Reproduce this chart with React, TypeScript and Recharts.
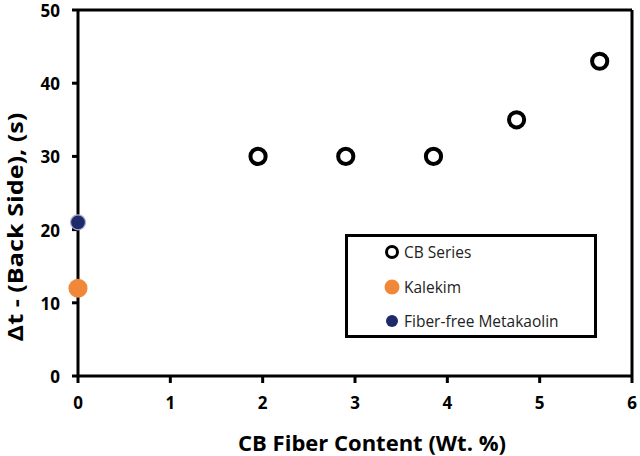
import React from "react";
import { ScatterChart, Scatter, XAxis, YAxis, ReferenceLine } from "recharts";

const cbSeries = [
  { x: 1.95, y: 30 },
  { x: 2.9, y: 30 },
  { x: 3.85, y: 30 },
  { x: 4.75, y: 35 },
  { x: 5.65, y: 43 },
];
const kalekim = [{ x: 0, y: 12 }];
const fiberFree = [{ x: 0, y: 21 }];

const xTicks = [0, 1, 2, 3, 4, 5, 6];
const yTicks = [0, 10, 20, 30, 40, 50];

const xTitle = "CB Fiber Content (Wt. %)";
const yTitle = "\u0394t - (Back Side), (s)";

const FONT = "'Open Sans', 'Noto Sans', sans-serif";

const OpenCircle = (p: any) => (
  <circle cx={p.cx} cy={p.cy} r={7.6} fill="#fff" stroke="#000" strokeWidth={4} />
);
const OrangeDot = (p: any) => <circle cx={p.cx} cy={p.cy} r={9.5} fill="#F0883A" />;
const NavyDot = (p: any) => (
  <circle cx={p.cx} cy={p.cy} r={7.5} fill="#1F2A6B" stroke="#A9B0D0" strokeWidth={1.2} />
);

const legendItems = [
  { name: "CB Series", kind: "open" },
  { name: "Kalekim", kind: "orange" },
  { name: "Fiber-free Metakaolin", kind: "navy" },
];

function LegendBox() {
  return (
    <div
      style={{
        position: "absolute",
        left: 345,
        top: 234,
        width: 252,
        height: 104,
        border: "3px solid #000",
        background: "#fff",
        fontFamily: FONT,
        fontSize: 15.5,
        color: "#222",
        boxSizing: "border-box",
        paddingLeft: 35,
      }}
    >
      <div style={{ position: "relative", top: -2 }}>
        {legendItems.map((it) => (
          <div key={it.name} style={{ display: "flex", alignItems: "center", height: 34.5 }}>
            <svg width={18} height={18} style={{ marginRight: 3 }}>
              {it.kind === "open" && <circle cx={9} cy={9} r={5.5} fill="#fff" stroke="#000" strokeWidth={3} />}
              {it.kind === "orange" && <circle cx={9} cy={9} r={7.5} fill="#F0883A" />}
              {it.kind === "navy" && <circle cx={9} cy={9} r={6} fill="#1F2A6B" />}
            </svg>
            <span>{it.name}</span>
          </div>
        ))}
      </div>
    </div>
  );
}

const XTitle = () => (
  <text x={372} y={442} textAnchor="middle" dominantBaseline="central" fill="#000"
    fontSize={22} fontWeight={700} fontFamily={FONT}>
    {xTitle}
  </text>
);

const YTitle = () => (
  <text transform="translate(15,227) rotate(-90) scale(1.2,1)" x={0} y={0} textAnchor="middle"
    dominantBaseline="central" fill="#000" fontSize={21} fontWeight={700} fontFamily={FONT}>
    {yTitle}
  </text>
);

export default function App() {
  return (
    <div style={{ position: "absolute", left: 0, top: 0, width: 640, height: 456, background: "#fff" }}>
      <ScatterChart width={640} height={456} margin={{ top: 10, right: 8, bottom: 0, left: 0 }}>
        <XAxis
          type="number"
          dataKey="x"
          domain={[0, 6]}
          ticks={xTicks}
          interval={0}
          height={80}
          axisLine={{ stroke: "#000", strokeWidth: 3 }}
          tickLine={{ stroke: "#000", strokeWidth: 3 }}
          tickSize={7}
          tickMargin={14}
          tick={{ fill: "#000", fontSize: 17, fontWeight: 700, fontFamily: FONT }}
          label={{ content: XTitle }}
        />
        <YAxis
          type="number"
          dataKey="y"
          domain={[0, 50]}
          ticks={yTicks}
          interval={0}
          width={78}
          axisLine={{ stroke: "#000", strokeWidth: 3 }}
          tickLine={{ stroke: "#000", strokeWidth: 3 }}
          tickSize={6}
          tickMargin={12}
          tick={{ fill: "#000", fontSize: 17, fontWeight: 700, fontFamily: FONT, dy: 1 }}
          label={{ content: YTitle }}
        />
        <ReferenceLine y={50} stroke="#000" strokeWidth={3} />
        <ReferenceLine x={6} stroke="#000" strokeWidth={3} />
        <Scatter name="CB Series" data={cbSeries} shape={OpenCircle} isAnimationActive={false} />
        <Scatter name="Kalekim" data={kalekim} shape={OrangeDot} isAnimationActive={false} />
        <Scatter name="Fiber-free Metakaolin" data={fiberFree} shape={NavyDot} isAnimationActive={false} />
      </ScatterChart>
      <LegendBox />
    </div>
  );
}
